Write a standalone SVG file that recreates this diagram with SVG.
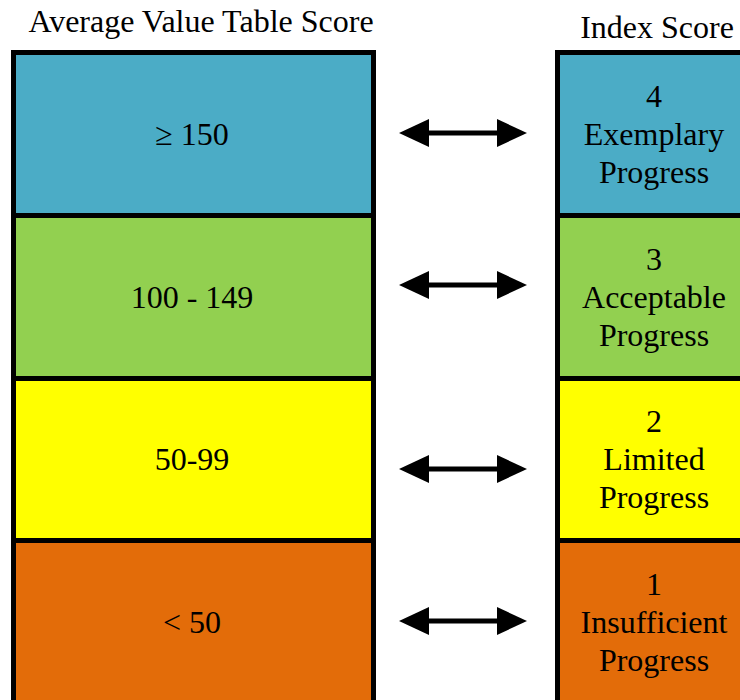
<svg xmlns="http://www.w3.org/2000/svg" width="740" height="700" viewBox="0 0 740 700">
<style>
.box{stroke:#000;stroke-width:5}
.t{font-family:"Liberation Serif","Times New Roman",serif;font-size:32px;fill:#000;text-anchor:middle}
.h{font-family:"Liberation Serif","Times New Roman",serif;font-size:32px;fill:#000;text-anchor:middle}
.blue{fill:#4BACC6}.green{fill:#92D050}.yellow{fill:#FFFF00}.orange{fill:#E36C09}
</style>
<defs>
<marker id="ah" viewBox="0 0 30 28" refX="0" refY="14" markerWidth="30" markerHeight="28" markerUnits="userSpaceOnUse" orient="auto-start-reverse">
<path d="M0,0 L30,14 L0,28 Z" fill="#000"/>
</marker>
</defs>
<rect width="740" height="700" fill="#fff"/>
<text class="h" x="201" y="32">Average Value Table Score</text>
<text class="h" x="657" y="38">Index Score</text>
<g id="left-150">
<rect class="box blue" x="13.5" y="52.5" width="360" height="163"/>
<text class="t" x="192" y="145">≥ 150</text>
</g>
<g id="left-100">
<rect class="box green" x="13.5" y="215.5" width="360" height="163"/>
<text class="t" x="192" y="308">100 - 149</text>
</g>
<g id="left-50">
<rect class="box yellow" x="13.5" y="378.5" width="360" height="162"/>
<text class="t" x="192" y="470">50-99</text>
</g>
<g id="left-0">
<rect class="box orange" x="13.5" y="540.5" width="360" height="163"/>
<text class="t" x="192" y="633">&lt; 50</text>
</g>
<g id="right-4">
<rect class="box blue" x="557.5" y="52.5" width="200" height="163"/>
<text class="t" x="654" y="107">4</text>
<text class="t" x="654" y="145">Exemplary</text>
<text class="t" x="654" y="183">Progress</text>
</g>
<g id="right-3">
<rect class="box green" x="557.5" y="215.5" width="200" height="163"/>
<text class="t" x="654" y="270">3</text>
<text class="t" x="654" y="308">Acceptable</text>
<text class="t" x="654" y="346">Progress</text>
</g>
<g id="right-2">
<rect class="box yellow" x="557.5" y="378.5" width="200" height="162"/>
<text class="t" x="654" y="432">2</text>
<text class="t" x="654" y="470">Limited</text>
<text class="t" x="654" y="508">Progress</text>
</g>
<g id="right-1">
<rect class="box orange" x="557.5" y="540.5" width="200" height="163"/>
<text class="t" x="654" y="595">1</text>
<text class="t" x="654" y="633">Insufficient</text>
<text class="t" x="654" y="671">Progress</text>
</g>
<g id="connectors" stroke="#000" stroke-width="5" fill="none">
<line x1="429" y1="133" x2="497" y2="133" marker-start="url(#ah)" marker-end="url(#ah)"/>
<line x1="429" y1="285" x2="497" y2="285" marker-start="url(#ah)" marker-end="url(#ah)"/>
<line x1="429" y1="469" x2="497" y2="469" marker-start="url(#ah)" marker-end="url(#ah)"/>
<line x1="429" y1="621" x2="497" y2="621" marker-start="url(#ah)" marker-end="url(#ah)"/>
</g>
</svg>
